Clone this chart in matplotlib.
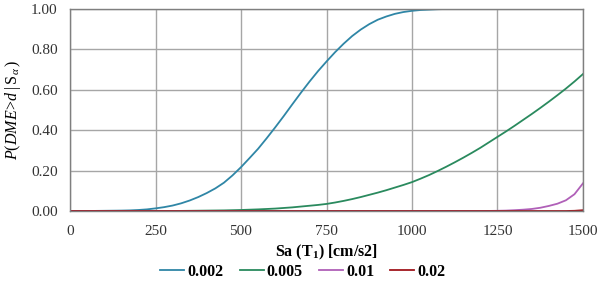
import matplotlib
matplotlib.use("Agg")
import matplotlib.pyplot as plt

plt.rcParams['font.family'] = ['Liberation Serif', 'DejaVu Serif']
plt.rcParams['mathtext.fontset'] = 'custom'
plt.rcParams['mathtext.rm'] = 'Liberation Serif'
plt.rcParams['mathtext.it'] = 'Liberation Serif:italic'
plt.rcParams['mathtext.bf'] = 'Liberation Serif:bold'

sa = list(range(0, 1501, 25))
p_0002 = [0, 0, 0.0002, 0.0005, 0.001, 0.0015, 0.002, 0.003, 0.005, 0.008,
          0.013, 0.019, 0.027, 0.038, 0.052, 0.069, 0.089, 0.112, 0.14, 0.176,
          0.217, 0.262, 0.308, 0.36, 0.414, 0.47, 0.528, 0.585, 0.64, 0.692,
          0.74, 0.786, 0.828, 0.866, 0.898, 0.925, 0.947, 0.963, 0.976, 0.985,
          0.991, 0.995, 0.997, 0.999, 1.0, 1.0, 1.0, 1.0, 1.0, 1.0,
          1.0, 1.0, 1.0, 1.0, 1.0, 1.0, 1.0, 1.0, 1.0, 1.0, 1.0]
p_0005 = [0, 0, 0, 0, 0, 0, 0, 0, 0, 0,
          0, 0, 0, 0.0005, 0.001, 0.0015, 0.002, 0.0025, 0.003, 0.004,
          0.005, 0.0065, 0.008, 0.01, 0.012, 0.015, 0.018, 0.022, 0.026, 0.03,
          0.035, 0.042, 0.05, 0.059, 0.069, 0.08, 0.091, 0.103, 0.116, 0.129,
          0.143, 0.16, 0.178, 0.198, 0.219, 0.241, 0.264, 0.288, 0.313, 0.34,
          0.367, 0.394, 0.422, 0.451, 0.48, 0.51, 0.541, 0.573, 0.606, 0.641, 0.678]
p_001 = [0, 0, 0, 0, 0, 0, 0, 0, 0, 0,
         0, 0, 0, 0, 0, 0, 0, 0, 0, 0,
         0, 0, 0, 0, 0, 0, 0, 0, 0, 0,
         0, 0, 0, 0, 0, 0, 0, 0, 0, 0,
         0, 0, 0, 0, 0, 0, 0, 0, 0, 0.0003,
         0.001, 0.002, 0.004, 0.0065, 0.01, 0.016, 0.025, 0.036, 0.053, 0.083, 0.137]
p_002 = [0] * 59 + [0.001, 0.004]

series = [("0.002", p_0002, "#2f86a6"), ("0.005", p_0005, "#2a8a5e"),
          ("0.01", p_001, "#b060b8"), ("0.02", p_002, "#a0161c")]

fig = plt.figure(figsize=(6.03, 2.82), dpi=100)
ax = fig.add_axes([70/603, 1-211/282, 513/603, 202/282])

for name, vals, c in series:
    ax.plot(sa, vals, color=c, lw=1.3, label=name)

ax.set_xlim(0, 1500)
ax.set_ylim(0, 1.0)
ax.set_xticks([0, 250, 500, 750, 1000, 1250, 1500])
ax.set_yticks([0, 0.2, 0.4, 0.6, 0.8, 1.0])
ax.set_yticklabels(["0.00", "0.20", "0.40", "0.60", "0.80", "1.00"])
ax.grid(True, color="#a6a6a6", lw=1.0)
ax.set_axisbelow(True)
for s in ax.spines.values():
    s.set_color("#7f7f7f")
    s.set_linewidth(1.0)
ax.tick_params(length=0, labelsize=11, colors="#333333")
ax.tick_params(axis='x', pad=10)
ax.tick_params(axis='y', pad=9)

ax.set_xlabel(r"Sa (T$_\mathbf{1}$) [cm/s2]", fontsize=11.5, fontweight="bold")
ax.xaxis.label.set_va("center")
ax.xaxis.set_label_coords(0.5, -(252-211)/202)
ax.set_ylabel(r"$P(DME\!>\!d\;|\,\mathrm{S}_{\alpha}\,)$", fontsize=11.5)
ax.yaxis.label.set_va("center")
ax.yaxis.set_label_coords(-(70-13)/513, 0.5)

leg = fig.legend(loc="center", bbox_to_anchor=(303/603, 1-272/282), ncol=4, frameon=False,
                 prop={"weight": "bold", "size": 11.5}, handlelength=1.5, handletextpad=0.2,
                 columnspacing=1.0)

fig.savefig("out.png", dpi=100)
